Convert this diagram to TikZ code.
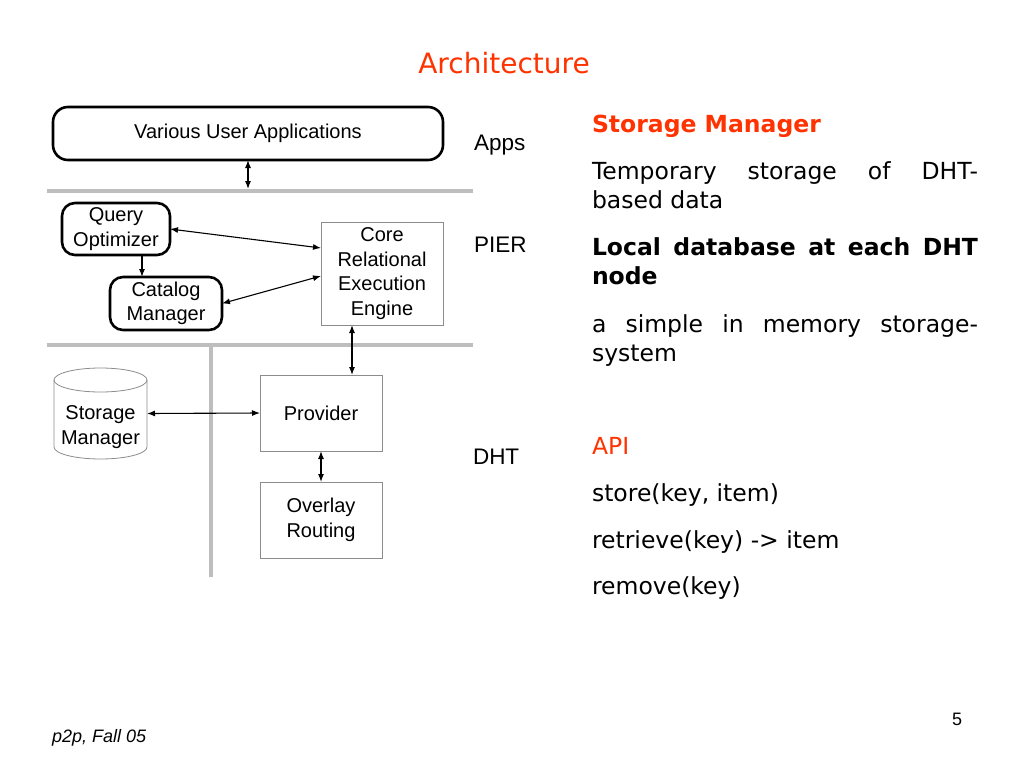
\documentclass[tikz,border=0pt]{standalone}
\usepackage{fontspec}
\setmainfont{Liberation Sans}
\newfontfamily\comic{DejaVu Sans}
\usetikzlibrary{arrows.meta}
\definecolor{hot}{RGB}{255,51,0}
\definecolor{bar}{RGB}{190,190,190}
\definecolor{thin}{RGB}{140,140,140}
\begin{document}
\begin{tikzpicture}[x=1pt,y=-1pt,
  every node/.style={inner sep=0pt,outer sep=0pt},
  lab/.style={font=\fontsize{20}{24.5}\selectfont,align=center},
  rbox/.style={lab,draw,line width=2.6pt,rounded corners=13pt},
  pbox/.style={lab,draw=thin,line width=0.8pt},
  conn/.style={line width=1.1pt,{Latex[length=8pt,width=6pt]}-{Latex[length=8pt,width=6pt]}},
  oneway/.style={line width=1.1pt,-{Latex[length=8pt,width=6pt]}},
  sep/.style={draw=bar,line width=4.5pt},
  layer/.style={font=\fontsize{22.5}{27}\selectfont,anchor=base west},
  rt/.style={font=\comic\fontsize{23.5}{29}\selectfont,anchor=base west},
  rtb/.style={font=\comic\bfseries\fontsize{23.5}{29}\selectfont,anchor=base west},
  foot/.style={font=\fontsize{18}{22}\selectfont}
]
\useasboundingbox[fill=white] (0,0) rectangle (1024,768);

% title
\node[font=\comic\fontsize{28}{34}\selectfont,text=hot,anchor=base] (title) at (504,73) {Architecture};

% separator bars
\draw[sep] (47,191) -- (473,191);
\draw[sep] (47,345) -- (473,345);
\draw[sep,line width=4pt] (211,345) -- (211,577);
\coordinate (bar1) at (248,189);

% boxes
\node[rbox,rounded corners=15pt,minimum width=390pt,minimum height=53pt] (apps) at (248,133.5) {Various User Applications};
\node[rbox,minimum width=108pt,minimum height=52pt] (qo) at (116,229) {Query\\Optimizer};
\node[rbox,minimum width=112pt,minimum height=53pt] (cm) at (166,303.5) {Catalog\\Manager};
\node[pbox,minimum width=122pt,minimum height=103pt] (cree) at (382,273.5) {Core\\Relational\\Execution\\Engine};
\node[pbox,minimum width=122pt,minimum height=76pt] (prov) at (321,413) {Provider};
\node[pbox,minimum width=122pt,minimum height=76pt] (over) at (321,520) {Overlay\\Routing};

% storage manager cylinder
\node[minimum width=93pt,minimum height=91pt] (sm) at (100.5,413.5) {};
\draw[draw=thin,line width=0.8pt,fill=white] (54,380) -- (54,447)
  arc[start angle=180,end angle=360,x radius=46.5pt,y radius=12pt] -- (147,380);
\draw[draw=thin,line width=0.8pt] (100.5,380) ellipse[x radius=46.5pt,y radius=12pt];
\node[lab] (smtext) at (100.5,427) {Storage\\Manager};

% connectors
\draw[conn] (apps.south) -- (bar1);
\draw[conn] (qo.east) -- ([yshift=25.5pt]cree.west);
\draw[conn] (cm.east) -- ([yshift=-2.5pt]cree.west);
\draw[oneway] ([xshift=26pt]qo.south) -- ([xshift=-24pt]cm.north);
\draw[conn] ([xshift=-30pt]cree.south) -- ([xshift=31pt]prov.north);
\draw[conn] (sm.east) -- (prov.west);
\draw[conn] (prov.south) -- (over.north);

% layer labels
\node[layer] (lapps) at (474,150) {Apps};
\node[layer] (lpier) at (474,252) {PIER};
\node[layer] (ldht) at (473,464) {DHT};

% right text
\node[rtb,text=hot] (t1) at (592,132) {Storage Manager};
\node[rt] (t2) at (592,179) {\hbox to 386pt{Temporary\hfill storage\hfill of\hfill DHT-}};
\node[rt] (t3) at (592,208) {based data};
\node[rtb] (t4) at (592,255) {\hbox to 386pt{Local\hfill database\hfill at\hfill each\hfill DHT}};
\node[rtb] (t5) at (592,284) {node};
\node[rt] (t6) at (592,332) {\hbox to 386pt{a\hfill simple\hfill in\hfill memory\hfill storage-}};
\node[rt] (t7) at (592,361) {system};
\node[rt,text=hot] (t8) at (592,454) {API};
\node[rt] (t9) at (592,501) {store(key, item)};
\node[rt] (t10) at (592,548) {retrieve(key) -> item};
\node[rt] (t11) at (592,594) {remove(key)};

% footer
\node[foot,font=\itshape\fontsize{18}{22}\selectfont,anchor=base west] (f1) at (52,742) {p2p, Fall 05};
\node[foot,anchor=base west] (f2) at (952,725) {5};
\end{tikzpicture}
\end{document}
